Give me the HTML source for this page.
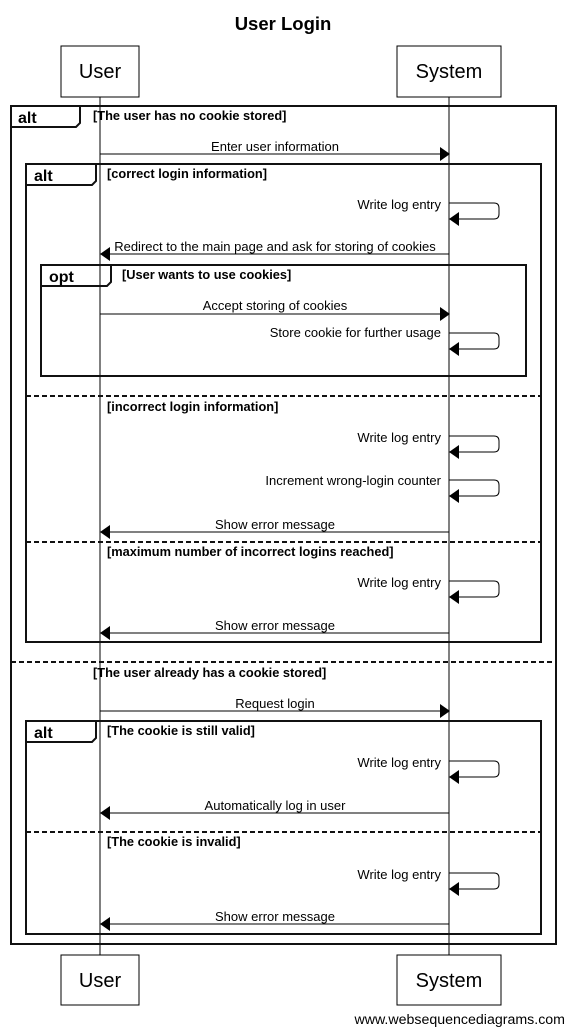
<!DOCTYPE html>
<html><head><meta charset="utf-8"><style>
html,body{margin:0;padding:0;background:#fff}
svg{display:block}
text{font-family:"Liberation Sans",Arial,sans-serif;fill:#000}
.m{font-size:13px}
.c{font-size:12.8px;font-weight:bold}
.t{font-size:16px;font-weight:bold}
.fr{fill:none;stroke:#111;stroke-width:2}
.d{stroke:#111;stroke-width:2;stroke-dasharray:5,3}
.ln{stroke:#000;stroke-width:1;fill:none}
</style></head><body>
<svg width="566" height="1028" viewBox="0 0 566 1028" xmlns="http://www.w3.org/2000/svg">
<text x="283" y="30" text-anchor="middle" style="font-size:18.5px;font-weight:bold">User Login</text>
<line x1="100" y1="97" x2="100" y2="955" class="ln"/>
<line x1="449" y1="97" x2="449" y2="955" class="ln"/>
<rect x="61" y="46" width="78" height="51" fill="#fff" stroke="#000"/>
<text x="100" y="78" text-anchor="middle" style="font-size:20px">User</text>
<rect x="397" y="46" width="104" height="51" fill="#fff" stroke="#000"/>
<text x="449" y="78" text-anchor="middle" style="font-size:20px">System</text>
<rect x="61" y="955" width="78" height="50" fill="#fff" stroke="#000"/>
<text x="100" y="987" text-anchor="middle" style="font-size:20px">User</text>
<rect x="397" y="955" width="104" height="50" fill="#fff" stroke="#000"/>
<text x="449" y="987" text-anchor="middle" style="font-size:20px">System</text>
<text x="565" y="1024" text-anchor="end" style="font-size:14.2px">www.websequencediagrams.com</text>

<rect x="11" y="106" width="545" height="838" class="fr"/>
<path d="M11,127 H76 L80,123 V106" class="fr"/>
<text x="18" y="123" class="t">alt</text>
<text x="93" y="120" class="c">[The user has no cookie stored]</text>
<line x1="11" y1="662" x2="556" y2="662" class="d"/>
<text x="93" y="677" class="c">[The user already has a cookie stored]</text>

<rect x="26" y="164" width="515" height="478" class="fr"/>
<path d="M26,185 H92 L96,181 V164" class="fr"/>
<text x="34" y="181" class="t">alt</text>
<text x="107" y="178" class="c">[correct login information]</text>
<line x1="26" y1="396" x2="541" y2="396" class="d"/>
<text x="107" y="411" class="c">[incorrect login information]</text>
<line x1="26" y1="542" x2="541" y2="542" class="d"/>
<text x="107" y="556" class="c">[maximum number of incorrect logins reached]</text>

<rect x="41" y="265" width="485" height="111" class="fr"/>
<path d="M41,286 H107 L111,282 V265" class="fr"/>
<text x="49" y="282" class="t">opt</text>
<text x="122" y="279" class="c">[User wants to use cookies]</text>

<rect x="26" y="721" width="515" height="213" class="fr"/>
<path d="M26,742 H92 L96,738 V721" class="fr"/>
<text x="34" y="738" class="t">alt</text>
<text x="107" y="735" class="c">[The cookie is still valid]</text>
<line x1="26" y1="832" x2="541" y2="832" class="d"/>
<text x="107" y="846" class="c">[The cookie is invalid]</text>

<defs>
<g id="self"><path d="M449,0 H494 Q499,0 499,5 V11 Q499,16 494,16 H459" class="ln"/><polygon points="449,16 459,9 459,23" fill="#000"/></g>
</defs>

<line x1="100" y1="154" x2="440" y2="154" class="ln"/><polygon points="450,154 440,147 440,161"/>
<text x="275" y="151" text-anchor="middle" class="m">Enter user information</text>

<use href="#self" y="203"/><text x="441" y="209" text-anchor="end" class="m">Write log entry</text>

<line x1="110" y1="254" x2="449" y2="254" class="ln"/><polygon points="100,254 110,247 110,261"/>
<text x="275" y="251" text-anchor="middle" class="m">Redirect to the main page and ask for storing of cookies</text>

<line x1="100" y1="314" x2="440" y2="314" class="ln"/><polygon points="450,314 440,307 440,321"/>
<text x="275" y="310" text-anchor="middle" class="m">Accept storing of cookies</text>

<use href="#self" y="333"/><text x="441" y="337" text-anchor="end" class="m">Store cookie for further usage</text>

<use href="#self" y="436"/><text x="441" y="442" text-anchor="end" class="m">Write log entry</text>
<use href="#self" y="480"/><text x="441" y="485" text-anchor="end" class="m">Increment wrong-login counter</text>

<line x1="110" y1="532" x2="449" y2="532" class="ln"/><polygon points="100,532 110,525 110,539"/>
<text x="275" y="529" text-anchor="middle" class="m">Show error message</text>

<use href="#self" y="581"/><text x="441" y="587" text-anchor="end" class="m">Write log entry</text>

<line x1="110" y1="633" x2="449" y2="633" class="ln"/><polygon points="100,633 110,626 110,640"/>
<text x="275" y="630" text-anchor="middle" class="m">Show error message</text>

<line x1="100" y1="711" x2="440" y2="711" class="ln"/><polygon points="450,711 440,704 440,718"/>
<text x="275" y="708" text-anchor="middle" class="m">Request login</text>

<use href="#self" y="761"/><text x="441" y="767" text-anchor="end" class="m">Write log entry</text>

<line x1="110" y1="813" x2="449" y2="813" class="ln"/><polygon points="100,813 110,806 110,820"/>
<text x="275" y="810" text-anchor="middle" class="m">Automatically log in user</text>

<use href="#self" y="873"/><text x="441" y="879" text-anchor="end" class="m">Write log entry</text>

<line x1="110" y1="924" x2="449" y2="924" class="ln"/><polygon points="100,924 110,917 110,931"/>
<text x="275" y="921" text-anchor="middle" class="m">Show error message</text>
</svg>
</body></html>
